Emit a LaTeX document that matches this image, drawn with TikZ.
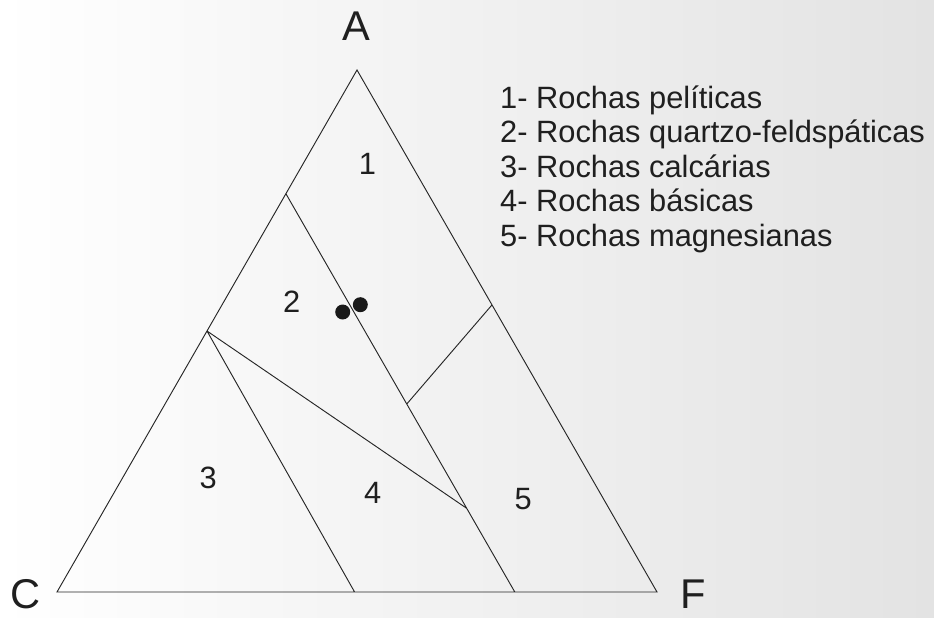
\documentclass[tikz,border=0pt]{standalone}
\usepackage{fontspec}
\setmainfont{Liberation Sans}
\usetikzlibrary{calc}
\tikzset{
  region/.style={font=\fontsize{26.3}{30}\selectfont, inner sep=0pt, text=black!88},
  corner/.style={font=\fontsize{35.5}{40}\selectfont, inner sep=0pt, text=black!88},
  legend/.style={font=\fontsize{26.3}{30}\selectfont, inner sep=0pt, anchor=base west, text=black!88},
}
\begin{document}
\begin{tikzpicture}[x=0.03cm, y=-0.03cm]
\shade [left color=white, right color=black!11] (0,0) rectangle (934,617);
\useasboundingbox (0,0) rectangle (934,617);

% vertices of the ternary diagram
\coordinate (A) at (357,70);
\coordinate (C) at (57,592);
\coordinate (F) at (657,592);
% field boundaries
\coordinate (p1) at ($(A)!0.237!(C)$);
\coordinate (p2) at ($(A)!0.5!(C)$);
\coordinate (b1) at ($(C)!0.496!(F)$);
\coordinate (b2) at ($(C)!0.763!(F)$);
\coordinate (r1) at ($(A)!0.45!(F)$);
\coordinate (q1) at ($(p1)!0.528!(b2)$);
\coordinate (s1) at ($(p1)!0.79!(b2)$);

\draw [line width=0.8pt, black!85] (A) -- (C) -- (F) -- cycle
      (p1) -- (b2)
      (p2) -- (b1)
      (p2) -- (s1)
      (q1) -- (r1)
      ;

% samples
\fill [black!90] (342.7,312) circle [radius=0.225cm]
      (360.3,304.7) circle [radius=0.225cm];

\node[corner] (lblA) at (356,26) {A};
\node[corner] (lblC) at (25.5,594.5) {C};
\node[corner] (lblF) at (693,594) {F};

\node[region] (f1) at (367.5,163.5) {1};
\node[region] (f2) at (291.7,301.7) {2};
\node[region] (f3) at (208.3,478.3) {3};
\node[region] (f4) at (372.7,493.3) {4};
\node[region] (f5) at (523.3,499.3) {5};

\node[legend] (leg1) at (500,108) {1- Rochas pelíticas};
\node[legend] (leg2) at (500,142.6) {2- Rochas quartzo-feldspáticas};
\node[legend] (leg3) at (500,177.2) {3- Rochas calcárias};
\node[legend] (leg4) at (500,211.8) {4- Rochas básicas};
\node[legend] (leg5) at (500,246.4) {5- Rochas magnesianas};
\end{tikzpicture}
\end{document}
